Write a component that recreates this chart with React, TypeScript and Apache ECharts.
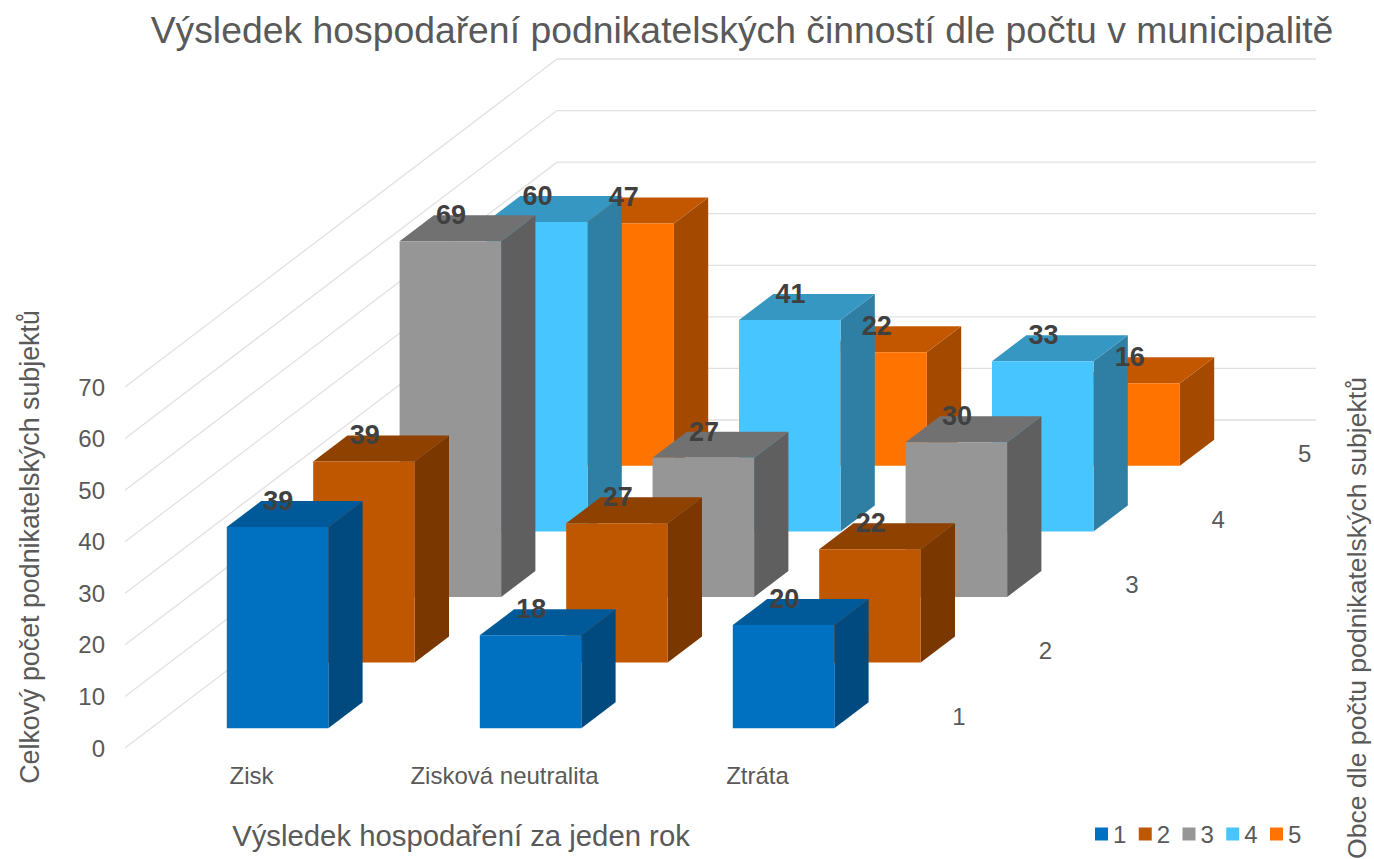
import React, { useEffect, useRef } from "react";
import * as echarts from "echarts";

const titleText = "Výsledek hospodaření podnikatelských činností dle počtu v municipalitě";
const leftAxisTitle = "Celkový počet podnikatelských subjektů";
const bottomAxisTitle = "Výsledek hospodaření za jeden rok";
const rightAxisTitle = "Obce dle počtu podnikatelských subjektů";

const categories = ["Zisk", "Zisková neutralita", "Ztráta"];
const seriesNames = ["1", "2", "3", "4", "5"];
const yTicks = [0, 10, 20, 30, 40, 50, 60, 70];

const values1 = [39, 18, 20];
const values2 = [39, 27, 22];
const values3 = [69, 27, 30];
const values4 = [60, 41, 33];
const values5 = [47, 22, 16];
const allValues = [values1, values2, values3, values4, values5];

const frontColors = ["#0070C0", "#BE5700", "#969696", "#47C5FF", "#FF7300"];
const topColors = ["#005A9A", "#8F4100", "#717171", "#3797C3", "#C25700"];
const sideColors = ["#004A80", "#7A3700", "#5F5F5F", "#2F7FA5", "#A34A00"];

const FONT = "'Liberation Sans', Arial, sans-serif";
const TEXT = "#595959";
const GRID_LEFT = 125;
const GRID_TOP = 387;
const GRID_W = 759;
const GRID_H = 361;

// oblique projection of the floor's depth
const WALL_DX = 432;
const WALL_DY = 328;
const SLOT_DX = WALL_DX / 5;
const SLOT_DY = WALL_DY / 5;
const BAR_W = 101.5;
const BAR_DX = 34.3;
const BAR_DY = 26;
const FRONT_GAP_DX = (SLOT_DX - BAR_DX) / 2;
const FRONT_GAP_DY = (SLOT_DY - BAR_DY) / 2;

function barRender(s: number) {
  return (params: any, api: any) => {
    const p0 = api.coord([api.value(0), 0]);
    const pv = api.coord([api.value(0), api.value(1)]);
    const cx = p0[0] + FRONT_GAP_DX + s * SLOT_DX;
    const shift = FRONT_GAP_DY + s * SLOT_DY;
    const yBase = p0[1] - shift;
    const yTop = pv[1] - shift;
    const xl = cx - BAR_W / 2;
    const xr = xl + BAR_W;
    return {
      type: "group",
      children: [
        {
          type: "polygon",
          shape: { points: [[xr, yBase], [xr + BAR_DX, yBase - BAR_DY], [xr + BAR_DX, yTop - BAR_DY], [xr, yTop]] },
          style: { fill: sideColors[s] },
        },
        {
          type: "polygon",
          shape: { points: [[xl, yTop], [xl + BAR_DX, yTop - BAR_DY], [xr + BAR_DX, yTop - BAR_DY], [xr, yTop]] },
          style: { fill: topColors[s] },
        },
        { type: "rect", shape: { x: xl, y: yTop, width: BAR_W, height: yBase - yTop }, style: { fill: frontColors[s] } },
      ],
    };
  };
}

function wallRender(params: any, api: any) {
  const y = api.coord([0, api.value(1)])[1];
  const x = params.coordSys.x;
  return {
    type: "polyline",
    shape: { points: [[x, y], [x + WALL_DX, y - WALL_DY], [x + WALL_DX + GRID_W, y - WALL_DY]] },
    style: { fill: "none", stroke: "#E1E1E1", lineWidth: 1.3 },
  };
}

function depthLabelRender(params: any, api: any) {
  const s = api.value(1);
  const cs = params.coordSys;
  return {
    type: "text",
    x: cs.x + cs.width + 75 + s * SLOT_DX,
    y: cs.y + cs.height - 32 - s * SLOT_DY,
    style: {
      text: seriesNames[s],
      fill: TEXT,
      font: `24px ${FONT}`,
      align: "center",
      verticalAlign: "middle",
    },
  };
}

function valueLabelRender(params: any, api: any) {
  const s = api.value(2);
  const pv = api.coord([api.value(0), api.value(1)]);
  return {
    type: "text",
    x: pv[0] + FRONT_GAP_DX + s * SLOT_DX + 0.7,
    y: pv[1] - FRONT_GAP_DY - s * SLOT_DY - BAR_DY,
    style: {
      text: String(api.value(1)),
      fill: "#404040",
      font: `bold 27px ${FONT}`,
      align: "center",
      verticalAlign: "middle",
    },
  };
}

export default function App() {
  const ref = useRef<HTMLDivElement>(null);
  useEffect(() => {
    const chart = echarts.init(ref.current!, undefined, { renderer: "svg" });
    const barSeries = seriesNames
      .map((name, s) => ({
        type: "custom",
        name,
        silent: true,
        itemStyle: { color: frontColors[s] },
        renderItem: barRender(s),
        encode: { x: 0, y: 1 },
        data: allValues[s].map((v, c) => [c, v]),
      }))
      .reverse();
    const labelData: number[][] = [];
    allValues.forEach((vals, s) => vals.forEach((v, c) => labelData.push([c, v, s])));
    chart.setOption({
      animation: false,
      backgroundColor: "#fff",
      title: {
        text: titleText,
        left: 737,
        top: 6,
        textAlign: "center",
        textStyle: { color: TEXT, fontFamily: FONT, fontSize: 37.35, fontWeight: "normal" },
      },
      legend: {
        left: 1095,
        top: 822,
        padding: 0,
        data: seriesNames,
        icon: "rect",
        itemWidth: 13,
        itemHeight: 13,
        itemGap: 12.4,
        selectedMode: false,
        textStyle: { color: TEXT, fontFamily: FONT, fontSize: 24, padding: [0, 0, 0, 0] },
      },
      grid: { left: GRID_LEFT, top: GRID_TOP, width: GRID_W, height: GRID_H },
      xAxis: {
        type: "category",
        data: categories,
        axisLine: { show: false },
        axisTick: { show: false },
        axisLabel: { color: TEXT, fontFamily: FONT, fontSize: 24, margin: 15 },
      },
      yAxis: {
        type: "value",
        min: 0,
        max: 70,
        interval: 10,
        splitLine: { show: false },
        axisLine: { show: false },
        axisTick: { show: false },
        axisLabel: { color: TEXT, fontFamily: FONT, fontSize: 24, margin: 20 },
      },
      graphic: [
        {
          type: "text",
          x: 30,
          y: 547,
          rotation: Math.PI / 2,
          style: { text: leftAxisTitle, fill: TEXT, font: `26.8px ${FONT}`, align: "center", verticalAlign: "middle" },
        },
        {
          type: "text",
          x: 461,
          y: 835,
          style: { text: bottomAxisTitle, fill: TEXT, font: `29.3px ${FONT}`, align: "center", verticalAlign: "middle" },
        },
        {
          type: "text",
          x: 1357,
          y: 618,
          rotation: Math.PI / 2,
          style: { text: rightAxisTitle, fill: TEXT, font: `26.6px ${FONT}`, align: "center", verticalAlign: "middle" },
        },
      ],
      series: [
        {
          type: "custom",
          name: "wall",
          silent: true,
          renderItem: wallRender,
          encode: { x: 0, y: 1 },
          data: yTicks.map((v) => [0, v]),
        },
        ...barSeries,
        {
          type: "custom",
          name: "depth",
          silent: true,
          renderItem: depthLabelRender,
          encode: { x: 0, y: 1 },
          data: seriesNames.map((_, s) => [0, s]),
        },
        {
          type: "custom",
          name: "values",
          silent: true,
          renderItem: valueLabelRender,
          encode: { x: 0, y: 1 },
          data: labelData,
        },
      ],
    });
    return () => chart.dispose();
  }, []);
  return <div ref={ref} style={{ position: "absolute", left: 0, top: 0, width: 1374, height: 859 }} />;
}
